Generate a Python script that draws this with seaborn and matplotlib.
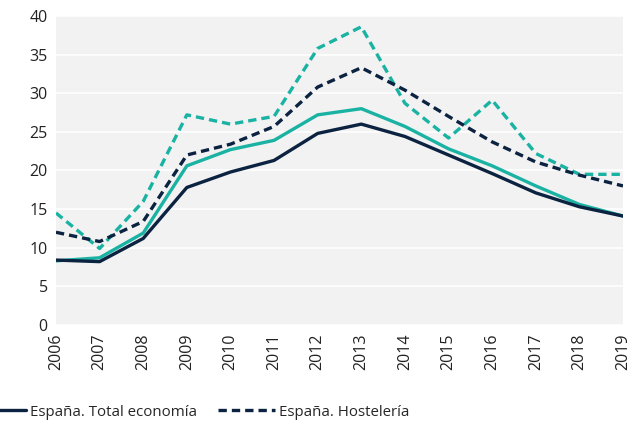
import pandas as pd
import seaborn as sns
import matplotlib.pyplot as plt

# values
years = list(range(2006, 2020))
espana_total = [8.4, 8.2, 11.2, 17.8, 19.8, 21.3, 24.8, 26.0, 24.4, 22.0, 19.6, 17.1, 15.3, 14.1]
espana_hosteleria = [12.0, 10.8, 13.4, 22.0, 23.4, 25.7, 30.8, 33.3, 30.4, 27.0, 23.7, 21.1, 19.4, 18.0]
region_total = [8.3, 8.7, 11.9, 20.6, 22.7, 23.9, 27.2, 28.0, 25.7, 22.8, 20.6, 18.0, 15.6, 14.1]
region_hosteleria = [14.5, 9.9, 16.0, 27.2, 26.0, 27.0, 35.8, 38.6, 28.7, 24.2, 29.1, 22.2, 19.5, 19.5]

navy = "#0b2240"
teal = "#1ab3a3"

sns.set_theme(style="white")
plt.rcParams['font.family'] = ['Open Sans', 'DejaVu Sans']

fig = plt.figure(figsize=(6.39, 4.28), dpi=100)
ax = fig.add_axes([0.0876, 0.2407, 0.8874, 0.722])
ax.set_facecolor("#f2f2f2")

lw = 2.4
sns.lineplot(x=years, y=region_total, color=teal, linewidth=lw, ax=ax)
sns.lineplot(x=years, y=espana_total, color=navy, linewidth=lw, ax=ax,
             label="España. Total economía")
sns.lineplot(x=years, y=region_hosteleria, color=teal, linewidth=lw, ax=ax)
ax.lines[-1].set_dashes((2.5, 1.5))
sns.lineplot(x=years, y=espana_hosteleria, color=navy, linewidth=lw, ax=ax,
             label="España. Hostelería")
ax.lines[-1].set_dashes((2.5, 1.5))

ax.set_xlim(2006, 2019)
ax.set_ylim(0, 40)
ax.set_yticks(range(0, 41, 5))
ax.set_xticks(years)
ax.set_xticklabels([str(y) for y in years], rotation=90)
ax.tick_params(axis="both", labelsize=11.5, colors="#222222", length=0, pad=6)
ax.grid(axis="y", color="white", linewidth=1.2)
ax.set_axisbelow(True)
for s in ax.spines.values():
    s.set_visible(False)
ax.set_xlabel("")
ax.set_ylabel("")

handles, labels = ax.get_legend_handles_labels()
ax.get_legend().remove()
fig.legend(handles, labels, loc="center left", bbox_to_anchor=(-0.069, 0.037),
           ncol=2, frameon=False, fontsize=10.8, handlelength=3.8,
           columnspacing=1.4, handletextpad=0.25)

fig.savefig("out.png", dpi=100)
